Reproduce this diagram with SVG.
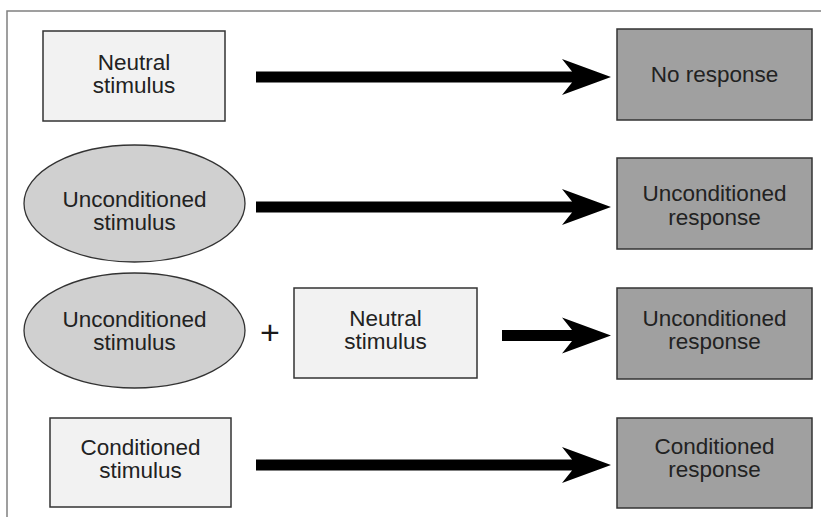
<svg xmlns="http://www.w3.org/2000/svg" width="821" height="521" viewBox="0 0 821 521">
<style>
  .frame{fill:none;stroke:#808080;stroke-width:1.5}
  .stim{fill:#f2f2f2;stroke:#333;stroke-width:1.5}
  .ucs{fill:#d0d0d0;stroke:#333;stroke-width:1.3}
  .resp{fill:#a0a0a0;stroke:#333;stroke-width:1.5}
  .t{font-family:"Liberation Sans",Arial,sans-serif;font-size:22.5px;fill:#222;text-anchor:middle}
  .plus{font-family:"Liberation Sans",Arial,sans-serif;font-size:34px;fill:#1a1a1a;text-anchor:middle}
  .arrow{fill:#000}
</style>
<defs>
  <path id="head" d="M-39,-5.5 L-49,-18 L0,0 L-49,18 L-39,5.5 Z"/>
</defs>
<path class="frame" d="M7,517 L7,11 L821,11"/>

<g id="neutral1">
  <rect class="stim" x="43" y="31" width="182" height="90"/>
  <text class="t" x="134" y="70">Neutral</text>
  <text class="t" x="134" y="93">stimulus</text>
</g>
<g id="noresponse">
  <rect class="resp" x="617" y="29" width="195" height="91"/>
  <text class="t" x="714.5" y="82">No response</text>
</g>

<g id="ucs1">
  <ellipse class="ucs" cx="134.5" cy="203.5" rx="110.5" ry="58.5"/>
  <text class="t" x="134.5" y="207">Unconditioned</text>
  <text class="t" x="134.5" y="230">stimulus</text>
</g>
<g id="ucr1">
  <rect class="resp" x="617" y="158" width="195" height="91"/>
  <text class="t" x="714.5" y="201">Unconditioned</text>
  <text class="t" x="714.5" y="225">response</text>
</g>

<g id="ucs2">
  <ellipse class="ucs" cx="134.5" cy="330.5" rx="110.5" ry="57.5"/>
  <text class="t" x="134.5" y="327">Unconditioned</text>
  <text class="t" x="134.5" y="350">stimulus</text>
</g>
<g id="plus">
  <text class="plus" x="270" y="344">+</text>
</g>
<g id="neutral2">
  <rect class="stim" x="294" y="288" width="183" height="90"/>
  <text class="t" x="385.5" y="326">Neutral</text>
  <text class="t" x="385.5" y="349">stimulus</text>
</g>
<g id="ucr2">
  <rect class="resp" x="617" y="288" width="195" height="91"/>
  <text class="t" x="714.5" y="326">Unconditioned</text>
  <text class="t" x="714.5" y="349">response</text>
</g>

<g id="cs">
  <rect class="stim" x="50" y="418" width="181" height="89"/>
  <text class="t" x="140.5" y="455">Conditioned</text>
  <text class="t" x="140.5" y="478">stimulus</text>
</g>
<g id="cr">
  <rect class="resp" x="617" y="418" width="195" height="90"/>
  <text class="t" x="714.5" y="454">Conditioned</text>
  <text class="t" x="714.5" y="477">response</text>
</g>

<g id="connectors" class="arrow">
  <rect x="256" y="71.5" width="317" height="11"/>
  <use href="#head" x="611" y="77"/>
  <rect x="256" y="201.5" width="317" height="11"/>
  <use href="#head" x="611" y="207"/>
  <rect x="502" y="330" width="71" height="11"/>
  <use href="#head" x="611" y="335.5"/>
  <rect x="256" y="459.5" width="317" height="11"/>
  <use href="#head" x="611" y="465"/>
</g>
</svg>
